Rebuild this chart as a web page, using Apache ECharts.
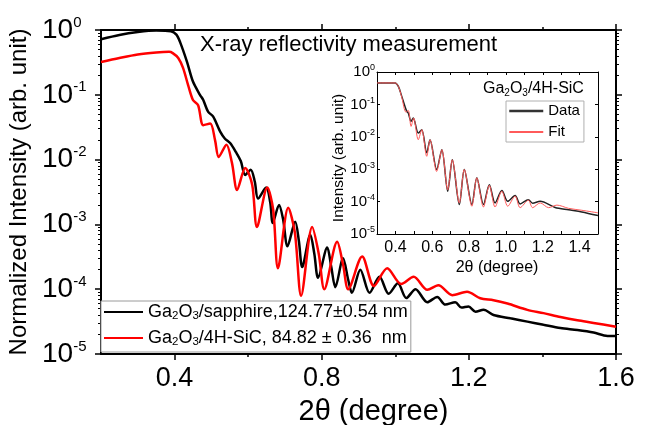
<!DOCTYPE html>
<html><head><meta charset="utf-8">
<script src="https://cdn.jsdelivr.net/npm/echarts@6/dist/echarts.min.js"></script>
<style>html,body{margin:0;padding:0;background:#fff}#c{width:650px;height:425px}</style>
</head><body><div id="c"></div>
<script>
// ---- main panel data ----
const sapphireX = [0.200,0.250,0.300,0.350,0.390,0.405,0.415,0.434,0.450,0.469,0.478,0.491,0.505,0.524,0.537,0.551,0.567,0.580,0.592,0.607,0.618,0.627,0.649,0.660,0.667,0.684,0.695,0.707,0.728,0.738,0.747,0.769,0.780,0.790,0.815,0.826,0.837,0.858,0.872,0.882,0.905,0.930,0.957,0.982,1.007,1.030,1.055,1.087,1.114,1.136,1.163,1.180,1.199,1.218,1.240,1.267,1.313,1.359,1.403,1.449,1.495,1.539,1.577,1.600];
const sapphireY = [0.72,0.84,0.93,0.98,0.96,0.85,0.65,0.32,0.16,0.10,0.083,0.055,0.046,0.027,0.021,0.018,0.013,0.0095,0.0058,0.0070,0.0046,0.0025,0.0037,0.0022,0.00105,0.0020,0.0012,0.00046,0.0011,0.00055,0.00022,0.00069,0.00035,0.00015,0.00044,0.00022,0.000107,0.00030,0.00014,0.000088,0.00020,0.000088,0.000155,0.000085,0.000123,0.000073,0.000100,0.000063,0.000076,0.000058,0.000063,0.000052,0.000054,0.000045,0.000048,0.000040,0.0000355,0.0000316,0.0000282,0.0000251,0.0000234,0.0000214,0.000019,0.000019];
const sicX = [0.200,0.250,0.300,0.350,0.385,0.395,0.410,0.423,0.437,0.450,0.464,0.478,0.497,0.510,0.520,0.541,0.556,0.570,0.592,0.611,0.624,0.652,0.668,0.681,0.709,0.727,0.744,0.774,0.792,0.807,0.842,0.858,0.872,0.910,0.942,0.978,1.016,1.050,1.087,1.117,1.155,1.195,1.231,1.267,1.305,1.359,1.403,1.449,1.495,1.539,1.600];
const sicY = [0.32,0.37,0.42,0.45,0.46,0.44,0.37,0.26,0.14,0.083,0.069,0.034,0.036,0.020,0.011,0.017,0.0089,0.0034,0.0074,0.0041,0.00091,0.0037,0.0017,0.00021,0.0018,0.00075,0.000079,0.00091,0.00035,0.00010,0.00054,0.00024,0.00010,0.00032,0.000112,0.00021,0.000120,0.000155,0.0000977,0.000115,0.000081,0.000091,0.0000724,0.0000676,0.000060,0.000048,0.0000427,0.0000372,0.0000331,0.0000302,0.0000263];
// ---- inset data ----
const insetDataX = [0.300,0.398,0.416,0.434,0.461,0.470,0.485,0.497,0.524,0.543,0.570,0.588,0.624,0.652,0.684,0.709,0.747,0.774,0.815,0.842,0.878,0.910,0.941,0.978,1.010,1.050,1.077,1.122,1.145,1.186,1.267,1.340,1.412,1.500];
const insetDataY = [0.46,0.46,0.36,0.18,0.062,0.054,0.030,0.038,0.013,0.0166,0.0032,0.0081,0.00098,0.0040,0.00021,0.00195,0.000081,0.00098,0.000081,0.00054,0.000081,0.00033,0.000091,0.00022,0.000102,0.000155,0.000085,0.000115,0.000089,0.000102,0.000066,0.000056,0.000048,0.000037];
const insetFitX = [0.300,0.398,0.416,0.434,0.457,0.470,0.485,0.499,0.524,0.543,0.570,0.588,0.624,0.652,0.684,0.709,0.747,0.774,0.815,0.842,0.878,0.910,0.941,0.978,1.010,1.050,1.077,1.122,1.145,1.186,1.232,1.277,1.340,1.412,1.500];
const insetFitY = [0.46,0.46,0.36,0.17,0.058,0.065,0.021,0.038,0.0081,0.0166,0.0025,0.0081,0.00085,0.0040,0.00023,0.00195,0.000091,0.00098,0.000072,0.00054,0.000068,0.00032,0.000068,0.00021,0.000072,0.000148,0.000065,0.00011,0.000065,0.000091,0.000065,0.000078,0.000062,0.000054,0.000045];
// ---- ticks ----
const mainXMajor = [0.4, 0.8, 1.2, 1.6];
const mainXMinor = [0.6, 1.0, 1.4];
const insetXLabels = [0.4, 0.6, 0.8, 1.0, 1.2, 1.4];
const decades = [1e-5, 1e-4, 1e-3, 1e-2, 1e-1, 1];
const logMinor = [];
decades.slice(0, 5).forEach(d => { [2,3,4,5,6,7,8,9].forEach(m => logMinor.push(+(d*m).toPrecision(3))); });

const names = {
  sapphire: ['Ga','2','O','3','/sapphire,124.77\u00b10.54 nm'],
  sic: ['Ga','2','O','3','/4H-SiC, 84.82 \u00b1 0.36  nm']
};
const FONT = '"Liberation Sans", Arial, Helvetica, sans-serif';
const pairs = (xs, ys) => xs.map((x, i) => [x, ys[i]]);
const chemRich = p => '{n|' + p[0] + '}{s|' + p[1] + '}{n|' + p[2] + '}{s|' + p[3] + '}{n|' + p[4] + '}';
const sup = v => '{b|10}{e|' + Math.round(Math.log10(v)) + '}';

const chart = echarts.init(document.getElementById('c'), null, {renderer: 'canvas'});
const blk = '#000';
const line2 = {show: true, lineStyle: {color: blk, width: 2}};
const line1 = {show: true, lineStyle: {color: blk, width: 1}};
const off = {show: false};

chart.setOption({
  animation: false,
  backgroundColor: '#fff',
  textStyle: {fontFamily: FONT},
  title: [
    {text: 'X-ray reflectivity measurement', left: 200, top: 34, padding: 0,
     textStyle: {fontSize: 22, fontWeight: 'normal', color: blk, fontFamily: FONT}},
    {text: chemRich(['Ga','2','O','3','/4H-SiC']), left: 483, top: 80, padding: 0,
     textStyle: {fontSize: 16, fontWeight: 'normal', color: blk, fontFamily: FONT,
       rich: {n: {fontSize: 16, lineHeight: 18, color: blk, fontFamily: FONT},
              s: {fontSize: 10, lineHeight: 8, verticalAlign: 'bottom', color: blk, fontFamily: FONT}}}}
  ],
  grid: [
    {left: 101, top: 30, width: 515, height: 324, containLabel: false, outerBoundsMode: 'none'},
    {left: 377, top: 72, width: 221, height: 162, containLabel: false, outerBoundsMode: 'none',
     show: true, backgroundColor: '#fff', borderWidth: 0}
  ],
  legend: [
    {data: ['sapphire', 'sic'], orient: 'vertical', left: 101, top: 301,
     itemWidth: 39, itemHeight: 14, itemGap: 7, padding: [2, 3, 4, 2],
     itemStyle: {opacity: 0},
     borderColor: '#9a9a9a', borderWidth: 1, backgroundColor: '#fff', selectedMode: false,
     formatter: n => chemRich(names[n]),
     textStyle: {color: blk, fontSize: 18, fontFamily: FONT,
       rich: {n: {fontSize: 18, lineHeight: 20, color: blk, fontFamily: FONT},
              s: {fontSize: 11.5, lineHeight: 8, verticalAlign: 'bottom', color: blk, fontFamily: FONT}}}},
    {data: [{name: 'Data', lineStyle: {width: 2.5, color: '#333'}}, {name: 'Fit'}], orient: 'vertical', left: 506, top: 101,
     itemWidth: 34, itemHeight: 10, itemGap: 5, padding: [2, 4, 2, 2],
     itemStyle: {opacity: 0},
     borderColor: '#b0b0b0', borderWidth: 1, backgroundColor: '#fff', selectedMode: false,
     textStyle: {color: blk, fontSize: 15, fontFamily: FONT, lineHeight: 16}}
  ],
  xAxis: [
    {type: 'value', gridIndex: 0, min: 0.2, max: 1.6, position: 'bottom',
     axisLine: line2, splitLine: off,
     axisTick: {show: true, length: 6, customValues: mainXMajor, lineStyle: {color: blk, width: 1.5}},
     axisLabel: {show: true, customValues: mainXMajor, margin: 11, fontSize: 27, color: blk, fontFamily: FONT,
                 formatter: v => (+v).toFixed(1)},
     name: '2\u03b8 (degree)', nameLocation: 'middle', nameGap: 43,
     nameTextStyle: {fontSize: 29, color: blk, fontFamily: FONT, padding: [0, 0, 0, 30]}},
    {type: 'value', gridIndex: 0, min: 0.2, max: 1.6, position: 'bottom', axisLine: off, splitLine: off,
     axisLabel: off, axisTick: {show: true, length: 3, customValues: mainXMinor, lineStyle: {color: blk, width: 1.5}}},
    {type: 'value', gridIndex: 0, min: 0.2, max: 1.6, position: 'top', axisLine: line2, splitLine: off,
     axisLabel: off, axisTick: {show: true, length: 6, customValues: mainXMajor, lineStyle: {color: blk, width: 1.5}}},
    {type: 'value', gridIndex: 0, min: 0.2, max: 1.6, position: 'top', axisLine: off, splitLine: off,
     axisLabel: off, axisTick: {show: true, length: 3, customValues: mainXMinor, lineStyle: {color: blk, width: 1.5}}},
    {type: 'value', gridIndex: 1, min: 0.3, max: 1.5, interval: 0.1, position: 'bottom',
     axisLine: line1, splitLine: off,
     axisTick: {show: true, inside: true, length: 3, lineStyle: {color: blk, width: 1}},
     axisLabel: {show: true, customValues: insetXLabels, margin: 6, fontSize: 16, color: blk, fontFamily: FONT,
                 formatter: v => (+v).toFixed(1)},
     name: '2\u03b8 (degree)', nameLocation: 'middle', nameGap: 26,
     nameTextStyle: {fontSize: 16, color: blk, fontFamily: FONT, padding: [0, 0, 0, 19]}},
    {type: 'value', gridIndex: 1, min: 0.3, max: 1.5, interval: 0.1, position: 'top', axisLine: line1, splitLine: off,
     axisLabel: off, axisTick: {show: true, inside: true, length: 3, lineStyle: {color: blk, width: 1}}}
  ],
  yAxis: [
    {type: 'log', logBase: 10, gridIndex: 0, min: 1e-5, max: 1, position: 'left',
     axisLine: line2, splitLine: off,
     axisTick: {show: true, length: 6, lineStyle: {color: blk, width: 1.5}},
     axisLabel: {show: true, margin: 59, align: 'left', color: blk, formatter: sup,
       rich: {b: {fontSize: 28, lineHeight: 30, color: blk, fontFamily: FONT},
              e: {fontSize: 15, lineHeight: 14, verticalAlign: 'top', color: blk, fontFamily: FONT}}},
     name: 'Normalized Intensity (arb. unit)', nameLocation: 'middle', nameGap: 59,
     nameTextStyle: {fontSize: 24, color: blk, fontFamily: FONT}},
    {type: 'log', logBase: 10, gridIndex: 0, min: 1e-5, max: 1, position: 'left', axisLine: off, splitLine: off,
     axisLabel: off, axisTick: {show: true, length: 3, customValues: logMinor, lineStyle: {color: blk, width: 1}}},
    {type: 'log', logBase: 10, gridIndex: 0, min: 1e-5, max: 1, position: 'right', axisLine: line2, splitLine: off,
     axisLabel: off, axisTick: {show: true, length: 6, lineStyle: {color: blk, width: 1.5}}},
    {type: 'log', logBase: 10, gridIndex: 0, min: 1e-5, max: 1, position: 'right', axisLine: off, splitLine: off,
     axisLabel: off, axisTick: {show: true, length: 3, customValues: logMinor, lineStyle: {color: blk, width: 1}}},
    {type: 'log', logBase: 10, gridIndex: 1, min: 1e-5, max: 1, position: 'left',
     axisLine: line1, splitLine: off,
     axisTick: {show: true, inside: true, length: 3, lineStyle: {color: blk, width: 1}},
     axisLabel: {show: true, margin: 2, color: blk, formatter: sup,
       rich: {b: {fontSize: 15, lineHeight: 17, color: blk, fontFamily: FONT},
              e: {fontSize: 9, lineHeight: 9, verticalAlign: 'top', color: blk, fontFamily: FONT}}},
     name: 'Intensity (arb. unit)', nameLocation: 'middle', nameGap: 29,
     nameTextStyle: {fontSize: 15.5, color: blk, fontFamily: FONT, padding: [0, 10, 0, 0]}},
    {type: 'log', logBase: 10, gridIndex: 1, min: 1e-5, max: 1, position: 'right', axisLine: line1, splitLine: off,
     axisLabel: off, axisTick: {show: true, inside: true, length: 3, lineStyle: {color: blk, width: 1}}}
  ],
  series: [
    {type: 'line', name: 'sapphire', xAxisIndex: 0, yAxisIndex: 0, data: pairs(sapphireX, sapphireY),
     symbol: 'none', smooth: 0.3, lineStyle: {color: '#000', width: 2.5}, itemStyle: {color: '#000'}, z: 3},
    {type: 'line', name: 'sic', xAxisIndex: 0, yAxisIndex: 0, data: pairs(sicX, sicY),
     symbol: 'none', smooth: 0.3, lineStyle: {color: '#ff0000', width: 2.5}, itemStyle: {color: '#ff0000'}, z: 3},
    {type: 'line', name: 'Data', xAxisIndex: 4, yAxisIndex: 4, data: pairs(insetDataX, insetDataY),
     symbol: 'none', smooth: 0.3, lineStyle: {color: '#222', width: 1.5}, itemStyle: {color: '#222'}, z: 4},
    {type: 'line', name: 'Fit', xAxisIndex: 4, yAxisIndex: 4, data: pairs(insetFitX, insetFitY),
     symbol: 'none', smooth: 0.3, lineStyle: {color: '#ff5a5a', width: 1}, itemStyle: {color: '#ff5a5a'}, z: 5}
  ]
});
</script></body></html>
